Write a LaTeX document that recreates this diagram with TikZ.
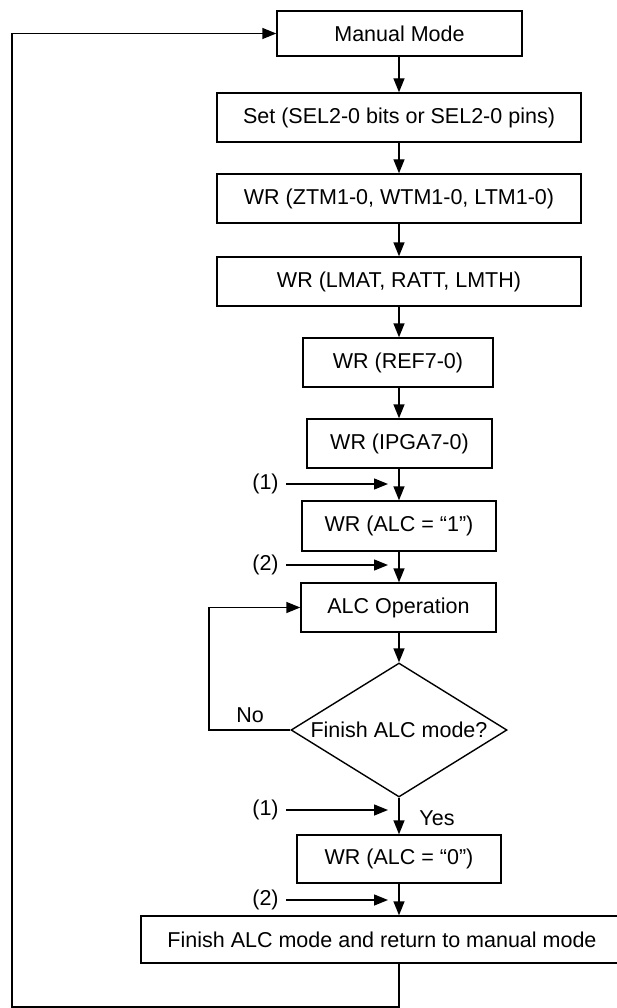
\documentclass[tikz,border=0pt]{standalone}
\usepackage{fontspec}
\setmainfont{Liberation Sans}
\usetikzlibrary{arrows.meta,shapes.geometric}
\begin{document}
\begin{tikzpicture}[x=1pt,y=-1pt,line width=1.4pt,
  txt/.style={font=\fontsize{21.5}{25}\selectfont},
  box/.style={draw,rectangle,inner sep=0pt,minimum height=49pt,txt},
  decision/.style={draw,diamond,inner sep=0pt,aspect=1.6,minimum width=216pt,minimum height=134pt,txt},
  lbl/.style={inner sep=0pt,txt},
  arr/.style={-{Triangle[length=14pt,width=11pt]}}]
\clip (0,0) rectangle (617,1008);
\node[box,minimum width=245pt,minimum height=45pt] (manual) at (399.5,33.5) {Manual Mode};
\node[box,minimum width=364pt] (set) at (399,117.5) {Set (SEL2-0 bits or SEL2-0 pins)};
\node[box,minimum width=364pt] (ztm) at (399,198.5) {WR (ZTM1-0, WTM1-0, LTM1-0)};
\node[box,minimum width=364pt] (lmat) at (399,281.5) {WR (LMAT, RATT, LMTH)};
\node[box,minimum width=190pt] (ref) at (398,362.5) {WR (REF7-0)};
\node[box,minimum width=185pt] (ipga) at (399.5,443.5) {WR (IPGA7-0)};
\node[box,minimum width=194pt,minimum height=50pt] (alc1) at (399,526) {WR (ALC = “1”)};
\node[box,minimum width=195pt] (alcop) at (398.5,607.5) {ALC Operation};
\node[decision] (dec) at (399,730) {Finish ALC mode?};
\node[box,minimum width=204pt,minimum height=48pt] (alc0) at (399,859) {WR (ALC = “0”)};
\node[box,minimum width=482pt,minimum height=47pt] (finish) at (382,939.5) {Finish ALC mode and return to manual mode};

% main flow (all on the column through set)
\draw[arr] (manual.south -| set.north) -- (set.north);
\draw[arr] (set.south) -- (ztm.north);
\draw[arr] (ztm.south) -- (lmat.north);
\draw[arr] (lmat.south) -- (lmat.south |- ref.north);
\draw[arr] (lmat.south |- ref.south) -- (lmat.south |- ipga.north);
\draw[arr] (lmat.south |- ipga.south) -- (lmat.south |- alc1.north);
\draw[arr] (lmat.south |- alc1.south) -- (lmat.south |- alcop.north);
\draw[arr] (lmat.south |- alcop.south) -- (dec.north);
\draw[arr] (dec.south) -- (alc0.north);
\draw[arr] (alc0.south) -- (alc0.south |- finish.north);

% No loop
\coordinate (noc) at (209,730);
\draw[arr] (dec.west) -- (noc) |- (alcop.west);
\node[lbl] (no) at (250,715) {No};
\node[lbl] (yes) at (437,818) {Yes};

% return loop
\coordinate (b1) at (399,1007);
\coordinate (b2) at (12,1007);
\draw[arr] (finish.south -| b1) -- (b1) -- (b2) |- (manual.west);

% entry points
\node[lbl] (e1a) at (265.5,484) {(1)};
\coordinate (t1a) at (388,484);
\draw[arr] ([xshift=7pt]e1a.east) -- (t1a);
\node[lbl] (e2a) at (265.5,565) {(2)};
\coordinate (t2a) at (388,565);
\draw[arr] ([xshift=7pt]e2a.east) -- (t2a);
\node[lbl] (e1b) at (265.5,810) {(1)};
\coordinate (t1b) at (388,810);
\draw[arr] ([xshift=7pt]e1b.east) -- (t1b);
\node[lbl] (e2b) at (265.5,900) {(2)};
\coordinate (t2b) at (388,900);
\draw[arr] ([xshift=7pt]e2b.east) -- (t2b);
\end{tikzpicture}
\end{document}
